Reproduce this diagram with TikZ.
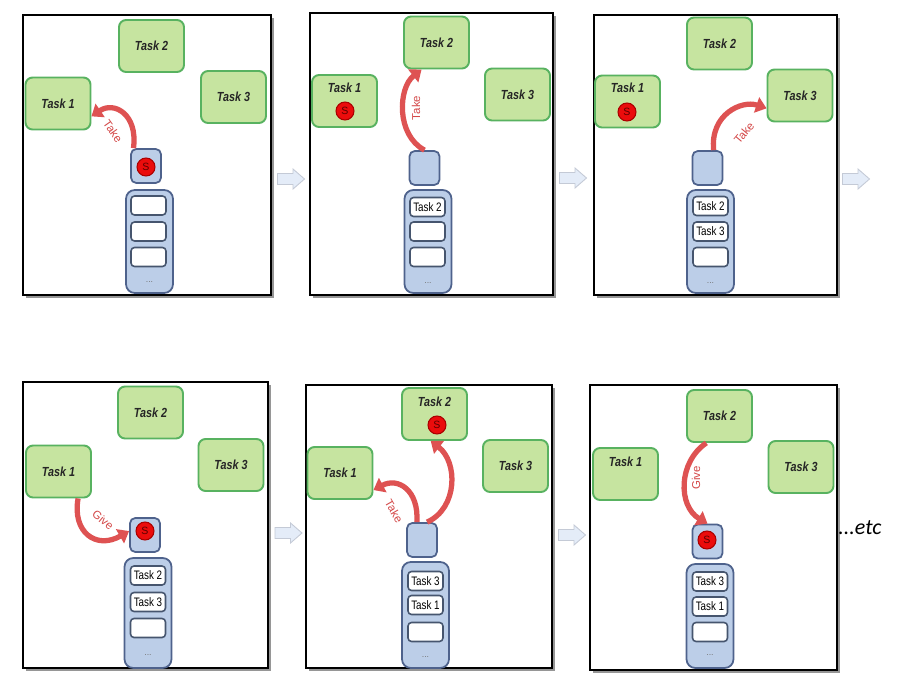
\documentclass[tikz,border=0pt]{standalone}
\usepackage{graphicx}
\usepackage{fontspec}
\setmainfont{Liberation Sans}
\newfontfamily\etcfont{Carlito}
\usetikzlibrary{arrows.meta}
\definecolor{taskfill}{RGB}{198,228,160}
\definecolor{taskdraw}{RGB}{88,178,96}
\definecolor{bluefill}{RGB}{188,206,232}
\definecolor{bluedraw}{RGB}{78,98,140}
\definecolor{slotdraw}{RGB}{70,85,110}
\definecolor{tokfill}{RGB}{235,12,12}
\definecolor{tokdraw}{RGB}{170,0,0}
\definecolor{arrred}{RGB}{222,82,82}
\definecolor{labred}{RGB}{212,72,72}
\definecolor{pafill}{RGB}{228,236,248}
\definecolor{padraw}{RGB}{196,202,214}
\definecolor{shadowgray}{RGB}{150,150,150}
\newcommand\tasktext[1]{\scalebox{0.82}[1]{\fontsize{7.5}{8}\selectfont\bfseries\itshape #1}}
\newcommand\slottext[1]{\scalebox{0.8}[1]{\fontsize{7}{8}\selectfont #1}}
\begin{document}
\begin{tikzpicture}[x=0.02cm,y=-0.02cm,
  frame/.style={draw=black,line width=0.9pt,fill=white},
  shade/.style={fill=shadowgray},
  task/.style={draw=taskdraw,fill=taskfill,line width=1.1pt,rounded corners=4pt,
    minimum width=1.3cm,minimum height=1.04cm,inner sep=0pt,text=black!85},
  tasklab/.style={inner sep=0pt,text=black!85},
  holder/.style={draw=bluedraw,fill=bluefill,line width=1pt,rounded corners=3pt,
    minimum width=0.6cm,minimum height=0.68cm,inner sep=0pt},
  queue/.style={draw=bluedraw,fill=bluefill,line width=1pt,rounded corners=5pt,
    minimum width=0.94cm,inner sep=0pt},
  slot/.style={draw=slotdraw,fill=white,line width=0.9pt,rounded corners=2pt,
    minimum width=0.7cm,minimum height=0.38cm,inner sep=0pt},
  token/.style={circle,draw=tokdraw,fill=tokfill,line width=0.6pt,minimum size=0.36cm,
    inner sep=0pt,font=\fontsize{6}{6}\selectfont,text={rgb,255:red,90;green,0;blue,0}},
  qdots/.style={inner sep=0pt,font=\fontsize{5}{5}\selectfont,text=black!55},
  redarr/.style={draw=arrred,line width=3pt,-{Triangle[width=9pt,length=6pt]}},
  lab/.style={inner sep=0pt,text=labred,font=\fontsize{6.5}{7}\selectfont},
  parrow/.style={fill=pafill,draw=padraw,line width=0.5pt}]
\useasboundingbox (0,0) rectangle (897,687);
\fill[white] (0,0) rectangle (897,687);

% ---------- Panel 1 ----------
\fill[shade] (26,18) rectangle (274,298);
\draw[frame] (23,15) rectangle (271,295);
\node[task] (p1t2) at (151.5,46) {\tasktext{Task 2}};
\node[task] (p1t1) at (58,103.5) {\tasktext{Task 1}};
\node[task] (p1t3) at (233.5,97) {\tasktext{Task 3}};
\node[holder] (p1sq) at (146,166) {};
\node[token] (p1s) at (146,167) {S};
\node[queue,minimum height=2.06cm] (p1q) at (149.5,241.5) {};
\node[slot] (p1a) at (148.5,205.5) {};
\node[slot] (p1b) at (148.5,231.5) {};
\node[slot] (p1c) at (148.5,257) {};
\node[qdots] (p1d) at (149.5,282) {...};
\draw[redarr] (p1sq.125) .. controls (138,114) and (114,101) .. (p1t1.-21);
\node[lab,rotate=-55] (p1l) at (113,131) {Take};

% ---------- Panel 2 ----------
\fill[shade] (313,16) rectangle (556,298);
\draw[frame] (310,13) rectangle (553,295);
\node[task] (p2t2) at (436.5,42.5) {\tasktext{Task 2}};
\node[task] (p2t1) at (344.5,101) {};
\node[tasklab] (p2t1l) at (344.5,88) {\tasktext{Task 1}};
\node[token] (p2s) at (345,111) {S};
\node[task] (p2t3) at (517.5,94.5) {\tasktext{Task 3}};
\node[holder] (p2sq) at (424.5,168) {};
\node[queue,minimum height=2.06cm] (p2q) at (428,241.5) {};
\node[slot] (p2a) at (427.5,207) {\slottext{Task 2}};
\node[slot] (p2b) at (427.5,231.5) {};
\node[slot] (p2c) at (427.5,257) {};
\node[qdots] (p2d) at (428,283) {...};
\draw[redarr] (p2sq.north) .. controls (396,135) and (398,88) .. (p2t2.-119);
\node[lab,rotate=90] (p2l) at (416,108) {Take};

% ---------- Panel 3 ----------
\fill[shade] (597,18) rectangle (840,298);
\draw[frame] (594,15) rectangle (837,295);
\node[task] (p3t2) at (719.5,43.5) {\tasktext{Task 2}};
\node[task] (p3t1) at (627.5,101.5) {};
\node[tasklab] (p3t1l) at (627.5,88) {\tasktext{Task 1}};
\node[token] (p3s) at (627,112) {S};
\node[task] (p3t3) at (800,95.5) {\tasktext{Task 3}};
\node[holder] (p3sq) at (707.5,168) {};
\node[queue,minimum height=2.06cm] (p3q) at (710.5,241.5) {};
\node[slot] (p3a) at (710.5,206) {\slottext{Task 2}};
\node[slot] (p3b) at (710.5,231.5) {\slottext{Task 3}};
\node[slot] (p3c) at (710.5,257) {};
\node[qdots] (p3d) at (710.5,283) {...};
\draw[redarr] (p3sq.71) .. controls (710,114) and (742,100) .. (p3t3.-159);
\node[lab,rotate=50] (p3l) at (744,133) {Take};

% ---------- Panel 4 ----------
\fill[shade] (26,385) rectangle (271,671);
\draw[frame] (23,382) rectangle (268,668);
\node[task] (p4t2) at (150.5,412.5) {\tasktext{Task 2}};
\node[task] (p4t1) at (58.5,471.5) {\tasktext{Task 1}};
\node[task] (p4t3) at (231,465) {\tasktext{Task 3}};
\node[holder] (p4sq) at (145,535) {};
\node[token] (p4s) at (145,531) {S};
\node[queue,minimum height=2.2cm] (p4q) at (148,613) {};
\node[slot] (p4a) at (148,575.5) {\slottext{Task 2}};
\node[slot] (p4b) at (148,602) {\slottext{Task 3}};
\node[slot] (p4c) at (148,628) {};
\node[qdots] (p4d) at (148,655) {...};
\draw[redarr] (p4t1.-54) .. controls (72,532) and (96,550) .. (p4sq.166);
\node[lab,rotate=-40] (p4l) at (103,520) {Give};

% ---------- Panel 5 ----------
\fill[shade] (309,388) rectangle (555,671);
\draw[frame] (306,385) rectangle (552,668);
\node[task] (p5t2) at (434.5,414) {};
\node[tasklab] (p5t2l) at (434.5,402) {\tasktext{Task 2}};
\node[token] (p5s) at (437,425) {S};
\node[task] (p5t1) at (340,473) {\tasktext{Task 1}};
\node[task] (p5t3) at (515.5,466) {\tasktext{Task 3}};
\node[holder] (p5sq) at (422,540) {};
\node[queue,minimum height=2.12cm] (p5q) at (425.5,615) {};
\node[slot] (p5a) at (425.5,581) {\slottext{Task 3}};
\node[slot] (p5b) at (425.5,605) {\slottext{Task 1}};
\node[slot] (p5c) at (425.5,632) {};
\node[qdots] (p5d) at (425.5,657) {...};
\draw[redarr] (p5sq.106) .. controls (419,490) and (398,477) .. (p5t1.-27);
\draw[redarr] (p5sq.74) .. controls (458,508) and (458,462) .. (p5t2.-98);
\node[lab,rotate=-60] (p5l) at (394,511) {Take};

% ---------- Panel 6 ----------
\fill[shade] (593,388) rectangle (840,673);
\draw[frame] (590,385) rectangle (837,670);
\node[task] (p6t2) at (719.5,416) {\tasktext{Task 2}};
\node[task] (p6t1) at (625.5,474) {};
\node[tasklab] (p6t1l) at (625.5,462) {\tasktext{Task 1}};
\node[task] (p6t3) at (801,467) {\tasktext{Task 3}};
\node[holder] (p6sq) at (707.5,541.5) {};
\node[token] (p6s) at (707,540) {S};
\node[queue,minimum height=2.08cm] (p6q) at (710,616) {};
\node[slot] (p6a) at (710,581.5) {\slottext{Task 3}};
\node[slot] (p6b) at (710,606.5) {\slottext{Task 1}};
\node[slot] (p6c) at (710,632) {};
\node[qdots] (p6d) at (710,655) {...};
\draw[redarr] (p6t2.-116) .. controls (678,462) and (678,506) .. (p6sq.north);
\node[lab,rotate=90] (p6l) at (696,478) {Give};

% ---------- arrows between panels ----------
\foreach \ax/\ay in {291/179,573/178,856/179,288.5/533,572/535}{
  \draw[parrow,shift={(\ax,\ay)}] (-13.5,-5.5) -- (2,-5.5) -- (2,-10) -- (13.5,0)
    -- (2,10) -- (2,5.5) -- (-13.5,5.5) -- cycle;
}
\node[inner sep=0pt,font=\etcfont\itshape\fontsize{12.5}{14}\selectfont] (etc) at (860,528) {...etc};
\end{tikzpicture}
\end{document}
